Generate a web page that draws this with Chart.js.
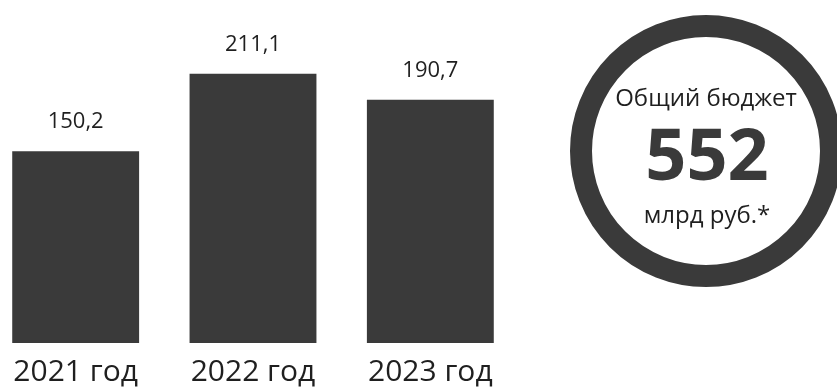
<!DOCTYPE html>
<html lang="ru">
<head>
<meta charset="utf-8">
<title>Бюджет</title>
<script src="https://cdn.jsdelivr.net/npm/chart.js@4.4.1/dist/chart.umd.min.js"></script>
<style>
  html, body { margin: 0; padding: 0; background: #fff; overflow: hidden; }
  body { width: 837px; height: 387px; position: relative; }
  /* the canvas is shifted a bit left so the first bar sits close to the edge */
  #wrap { position: absolute; left: -13px; top: 0; width: 850px; height: 393px; }
</style>
</head>
<body>
<div id="wrap"><canvas id="budgetChart"></canvas></div>
<script>
const years = ['2021 год', '2022 год', '2023 год']
const budget = [150.2, 211.1, 190.7]
const totalTitle = 'Общий бюджет'
const totalUnit = 'млрд руб.*'

const DARK = '#3a3a3a'
const TEXT = '#1f1f1f'
const SHIFT = 13

const fmt = v => v.toFixed(1).replace('.', ',')

// ======= value labels above each bar =======
const barValues = {
  id: 'barValues',
  afterDatasetsDraw (chart) {
    const ctx = chart.ctx
    const meta = chart.getDatasetMeta(0)
    ctx.save()
    ctx.font = '22px "Open Sans"'
    ctx.fillStyle = TEXT
    ctx.textAlign = 'center'
    ctx.textBaseline = 'alphabetic'
    meta.data.forEach((bar, i) => {
      ctx.fillText(fmt(budget[i]), bar.x, bar.y - 23)
    })
    ctx.restore()
  }
}

// ======= ring with the total on the right =======
const totalRing = {
  id: 'totalRing',
  afterDraw (chart) {
    const ctx = chart.ctx
    const cx = 706 + SHIFT
    const cy = 151
    const total = budget.reduce((a, b) => a + b, 0)
    ctx.save()
    ctx.beginPath()
    ctx.arc(cx, cy, 125, 0, Math.PI * 2)
    ctx.lineWidth = 22
    ctx.strokeStyle = DARK
    ctx.stroke()

    ctx.textAlign = 'center'
    ctx.textBaseline = 'alphabetic'
    ctx.fillStyle = TEXT
    ctx.font = '24px "Open Sans"'
    ctx.fillText(totalTitle, cx, 106)
    ctx.fillStyle = DARK
    ctx.font = 'bold 72px "Open Sans"'
    ctx.fillText(Math.round(total).toString(), cx + 1, 180)
    ctx.fillStyle = TEXT
    ctx.font = '24px "Open Sans"'
    ctx.fillText(totalUnit, cx + 1, 223)
    ctx.restore()
  }
}

const budgetChart = new Chart(document.getElementById('budgetChart').getContext('2d'), {
  type: 'bar',
  data: {
    labels: years,
    datasets: [
      {
        data: budget,
        backgroundColor: DARK,
        borderWidth: 0,
        categoryPercentage: 1,
        barPercentage: 0.7155
      }
    ]
  },
  options: {
    responsive: true,
    maintainAspectRatio: false,
    animation: false,
    layout: { padding: { top: 24, right: 318, left: 0, bottom: 0 } },
    plugins: {
      legend: { display: false },
      tooltip: { enabled: false }
    },
    scales: {
      x: {
        grid: { display: false },
        border: { display: false },
        ticks: {
          color: TEXT,
          padding: 3,
          font: { family: 'Open Sans', size: 30 }
        }
      },
      y: {
        display: false,
        min: 0,
        max: 250
      }
    }
  },
  plugins: [barValues, totalRing]
})
</script>
</body>
</html>
